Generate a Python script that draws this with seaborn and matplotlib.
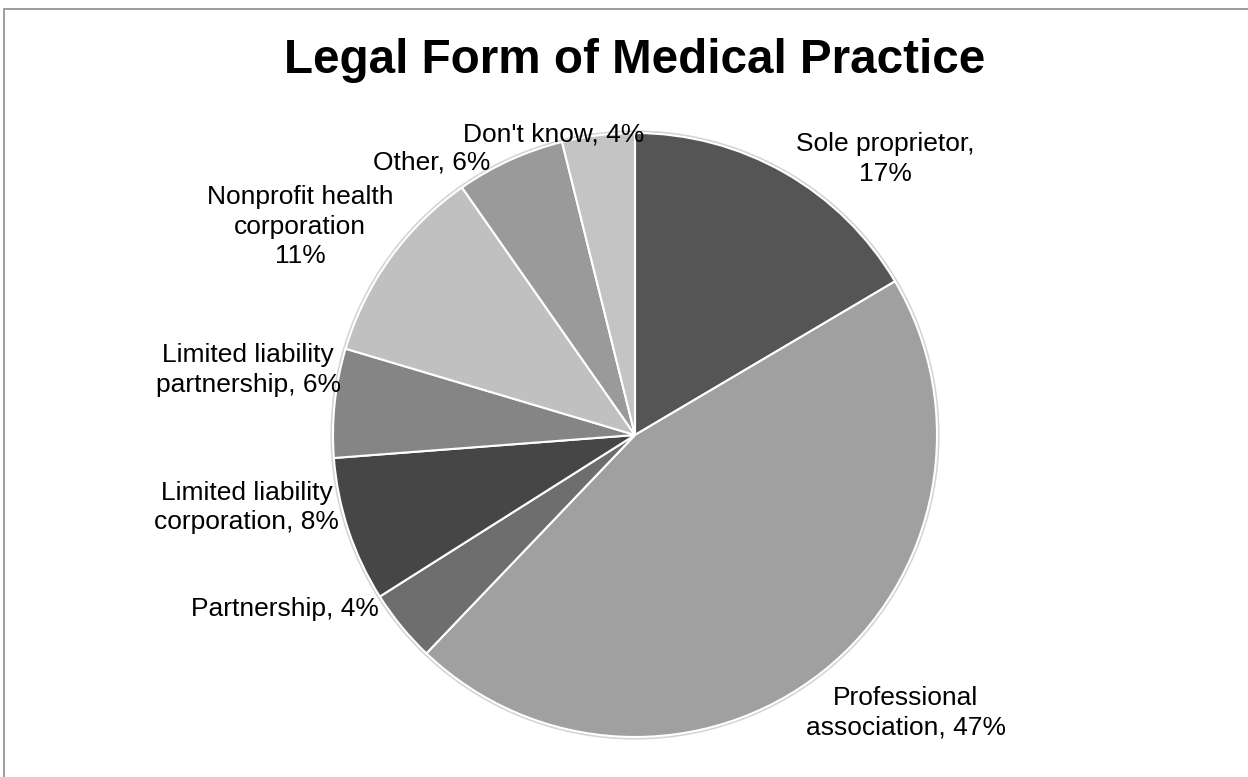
import matplotlib
matplotlib.use("Agg")
import matplotlib.pyplot as plt
import seaborn as sns
from matplotlib.patches import Rectangle, Circle

# Survey shares by legal form (percent)
categories = [
    "Sole proprietor",
    "Professional association",
    "Partnership",
    "Limited liability corporation",
    "Limited liability partnership",
    "Nonprofit health corporation",
    "Other",
    "Don't know",
]
shares = [17, 47, 4, 8, 6, 11, 6, 4]
label_texts = [
    "Sole proprietor,\n17%",
    "Professional\nassociation, 47%",
    "Partnership, 4%",
    "Limited liability\ncorporation, 8%",
    "Limited liability\npartnership, 6%",
    "Nonprofit health\ncorporation\n11%",
    "Other, 6%",
    "Don't know, 4%",
]
slice_colors = ["#555555", "#a0a0a0", "#6e6e6e", "#464646",
                "#858585", "#c0c0c0", "#9a9a9a", "#c4c4c4"]

# label anchor points, in pie units (radius = 1)
label_xy = [(0.828, 0.913), (0.897, -0.920), (-1.159, -0.575),
            (-1.285, -0.240), (-1.281, 0.215), (-1.109, 0.690),
            (-0.672, 0.901), (-0.268, 0.995)]

sns.set_theme(style="white")
plt.rcParams["font.family"] = ["Liberation Sans", "DejaVu Sans"]

W, H = 1248, 777
fig = plt.figure(figsize=(W / 100, H / 100), dpi=100)
fig.patch.set_facecolor("white")

# chart frame (top/left edges visible)
fig.patches.append(Rectangle((4 / W, -0.1), 1.2, 1 - 9 / H + 0.1,
                             transform=fig.transFigure, fill=False,
                             edgecolor="#8c8c8c", linewidth=1.2))

cx, cy, r = 635, 435, 302
ax = fig.add_axes([(cx - r) / W, (H - cy - r) / H, 2 * r / W, 2 * r / H])
# soft rim around the pie
ax.add_patch(Circle((0, 0), 1.004, facecolor="none", edgecolor="#d4d4d4",
                    linewidth=2.0, zorder=0, clip_on=False))
wedges, _ = ax.pie(shares, colors=slice_colors, startangle=90,
                   counterclock=False, radius=1,
                   wedgeprops=dict(edgecolor="white", linewidth=1.5))
for w in wedges:
    w.set_clip_on(False)
ax.set_xlim(-1, 1)
ax.set_ylim(-1, 1)
ax.set_aspect("equal")
ax.axis("off")

for txt, (x, y) in zip(label_texts, label_xy):
    ax.text(x, y, txt, ha="center", va="center", fontsize=19,
            color="black", linespacing=1.3, clip_on=False)

fig.text(cx / W, 1 - 73 / H, "Legal Form of Medical Practice",
         ha="center", va="baseline", fontsize=34.3, fontweight="bold",
         color="black")

fig.savefig("out.png", dpi=100, facecolor="white")
